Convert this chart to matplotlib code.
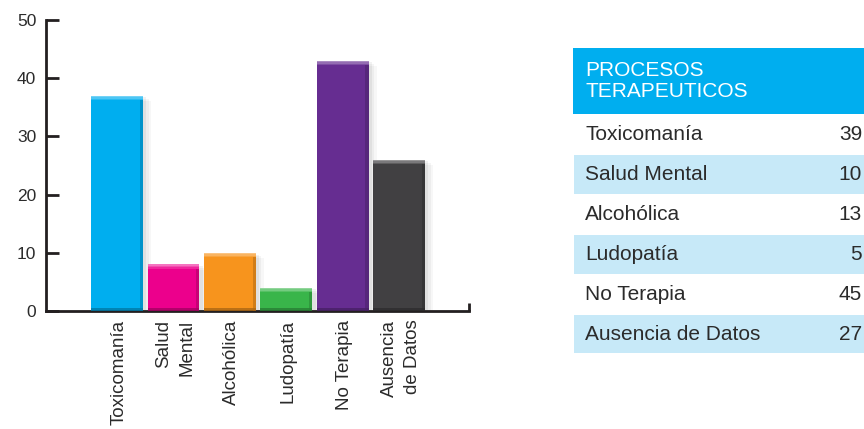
import matplotlib
matplotlib.use("Agg")
import matplotlib.pyplot as plt
from matplotlib.patches import Rectangle
import matplotlib.colors as mcolors
import numpy as np

# ---- data ----
categories = ["Toxicomanía", "Salud Mental", "Alcohólica", "Ludopatía", "No Terapia", "Ausencia de Datos"]
axis_labels = ["Toxicomanía", "Salud\nMental", "Alcohólica", "Ludopatía", "No Terapia", "Ausencia\nde Datos"]
bar_values = [37, 8, 10, 4, 43, 26]          # heights as drawn in the bar chart
table_values = [39, 10, 13, 5, 45, 27]        # values printed in the table
bar_colors = ["#00AEEF", "#EC008C", "#F7941D", "#39B54A", "#662D91", "#414042"]
yticks = [0, 10, 20, 30, 40, 50]
table_title = "PROCESOS\nTERAPEUTICOS"

plt.rcParams['font.family'] = ['Liberation Sans', 'DejaVu Sans']
TXT = "#2B2B2B"
AX = "#231F20"

W, H = 864, 429
fig = plt.figure(figsize=(W / 100, H / 100), dpi=100)
fig.patch.set_facecolor("white")

# ---- bar chart ----
ax = fig.add_axes([46 / W, (H - 311) / H, (469 - 46) / W, (311 - 20) / H])
ax.set_facecolor("none")
x = np.arange(len(categories))
width = 0.92

# soft shadows
for xi, v in zip(x, bar_values):
    for k, a in enumerate([0.05, 0.04, 0.03]):
        ax.add_patch(Rectangle((xi - width / 2 + 0.06 + 0.04 * k, 0), width, v - 0.3 - 0.3 * k,
                               facecolor="black", alpha=a, edgecolor="none", zorder=1))

bars = ax.bar(x, bar_values, width=width, color=bar_colors, zorder=2, edgecolor="none")
# highlight top band and darker edge for a bevelled look
for b, c in zip(bars, bar_colors):
    rgb = np.array(mcolors.to_rgb(c))
    x0, w, h = b.get_x(), b.get_width(), b.get_height()
    for k, f in enumerate([0.45, 0.3, 0.15]):
        light = rgb + (1 - rgb) * f
        ax.add_patch(Rectangle((x0, h - 0.25 * (k + 1)), w, 0.25, facecolor=light, edgecolor="none", zorder=3))
    dark = rgb * 0.7
    ax.add_patch(Rectangle((x0 + w * 0.94, 0), w * 0.06, h - 0.75, facecolor=dark, edgecolor="none", zorder=3, alpha=0.5))
    ax.add_patch(Rectangle((x0, 0), w, 0.5, facecolor=dark, edgecolor="none", zorder=3, alpha=0.8))

ax.set_xlim(-1.26, 6.24)
ax.set_ylim(0, 50)
ax.set_yticks(yticks)
ax.set_yticklabels([str(t) for t in yticks], fontsize=12.5, color=TXT)
ax.tick_params(axis="y", direction="in", length=9, width=2, color=AX, pad=7)
ax.set_xticks([])
for s in ["top", "right"]:
    ax.spines[s].set_visible(False)
for s in ["left", "bottom"]:
    ax.spines[s].set_linewidth(2)
    ax.spines[s].set_color(AX)
# small upturn at right end of x axis
ax.plot([1, 1], [0, 0.028], transform=ax.transAxes, color=AX, lw=2, clip_on=False, solid_capstyle="butt")

for xi, lab in zip(x, axis_labels):
    ax.text(xi + 0.03, -1.5, lab, rotation=90, ha="center", va="top", multialignment="right",
            fontsize=13.5, color=TXT, linespacing=1.45)

# ---- table ----
tx = fig.add_axes([573 / W, (H - 353) / H, (W - 573) / W, (353 - 48) / H])
tx.set_xlim(573, W)
tx.set_ylim(353, 48)
tx.axis("off")
tx.add_patch(Rectangle((573, 48), W - 573, 66, facecolor="#00AEEF", edgecolor="none"))
tx.text(585, 81, table_title, ha="left", va="center", fontsize=15, color="white", linespacing=1.1)
row_top = 114
for i, (name, val) in enumerate(zip(categories, table_values)):
    y0 = row_top + 40 * i
    if i % 2 == 1:
        tx.add_patch(Rectangle((574, y0 + 1), W - 574, 38.5, facecolor="#C7E9F8", edgecolor="none"))
    tx.text(585, y0 + 20, name, ha="left", va="center", fontsize=15, color=TXT)
    tx.text(862, y0 + 20, str(val), ha="right", va="center", fontsize=15, color=TXT)

fig.savefig("out.png", dpi=100, facecolor="white")
